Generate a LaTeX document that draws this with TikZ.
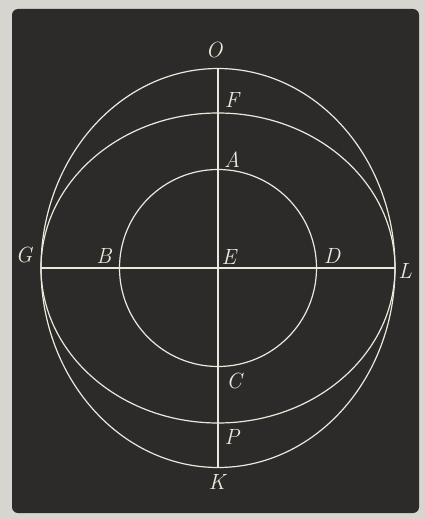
\documentclass[tikz,border=0pt]{standalone}
\usepackage{xcolor}
\usepackage{tikz}
\usetikzlibrary{positioning,calc}

\definecolor{slate}{HTML}{2C2B29}
\definecolor{chalk}{HTML}{ECE9DC}
\definecolor{mount}{HTML}{D6D5D0}

\begin{document}
\begin{tikzpicture}[
    x=1pt, y=-1pt,
    curve/.style={draw=chalk, line width=1.2pt},
    axis/.style={draw=chalk, line width=1.1pt},
    letter/.style={text=chalk, font=\fontsize{22}{26}\selectfont\itshape, inner sep=0pt}
]

% --- PLATE ---
\fill[mount] (0,0) rectangle (425,519);
\fill[slate, rounded corners=6pt] (12,9) rectangle (419,513);
\useasboundingbox (0,0) rectangle (425,519);

% --- POINTS ---
\coordinate (E) at (218,268);
\coordinate (O) at (218,68);
\coordinate (K) at (218,467);
\coordinate (G) at (41,268);
\coordinate (L) at (395,268);

% --- CURVES ---
\draw[curve] (E) ellipse [x radius=177, y radius=199.5];
\draw[curve] (E) ellipse [x radius=177, y radius=155];
\draw[curve] (E) circle [radius=98.5];

% --- AXES ---
\draw[axis] (O) -- (K);
\draw[axis] (G) -- (L);

% --- LABELS ---
\node (lO) [letter] at (214,50) {O};
\node (lF) [letter] at (232,100) {F};
\node (lA) [letter] at (232,160) {A};
\node (lG) [letter] at (24,255) {G};
\node (lB) [letter] at (104,256) {B};
\node (lE) [letter] at (229,257) {E};
\node (lD) [letter] at (332,256) {D};
\node (lL) [letter] at (405,271) {L};
\node (lC) [letter] at (234,381) {C};
\node (lP) [letter] at (232,437) {P};
\node (lK) [letter] at (217,482) {K};

\end{tikzpicture}
\end{document}
